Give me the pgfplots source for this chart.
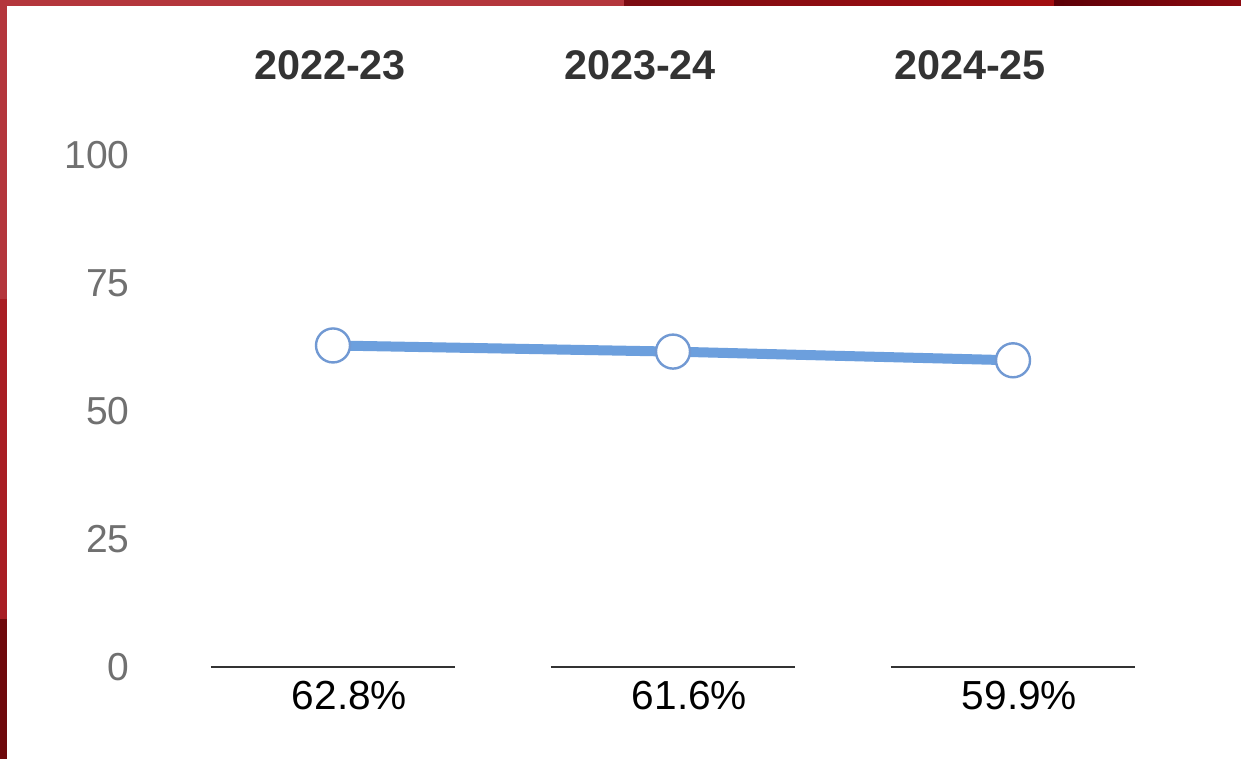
\documentclass[border=0pt]{standalone}
\usepackage{pgfplots}
\pgfplotsset{compat=1.18}
\usepackage{fontspec}
\setmainfont{Liberation Sans}
\definecolor{lineblue}{HTML}{6C9FDD}
\definecolor{markblue}{HTML}{7199D3}
\definecolor{tickgray}{HTML}{707070}
\definecolor{labeldark}{HTML}{333333}
\begin{document}
\begin{tikzpicture}
% background (1px = 0.5pt), picture 620.5pt x 379.5pt
\fill[color={rgb,255:red,168;green,30;blue,36}] (0pt,0pt) rectangle (620.5pt,379.5pt);
\fill[color={rgb,255:red,180;green,54;blue,60}] (0pt,230pt) rectangle (3.5pt,379.5pt);
\fill[color={rgb,255:red,110;green,9;blue,11}] (0pt,0pt) rectangle (3.5pt,70pt);
\fill[color={rgb,255:red,180;green,54;blue,60}] (0pt,376.5pt) rectangle (312pt,379.5pt);
\shade[left color={rgb,255:red,124;green,12;blue,18}, right color={rgb,255:red,162;green,14;blue,16}] (312pt,376.5pt) rectangle (527pt,379.5pt);
\shade[left color={rgb,255:red,92;green,0;blue,7}, right color={rgb,255:red,140;green,10;blue,16}] (527pt,376.5pt) rectangle (620.5pt,379.5pt);
\fill[white] (3.5pt,0pt) rectangle (620.5pt,376.5pt);
\begin{axis}[
  at={(81.5pt,46pt)}, anchor=south west,
  scale only axis, width=510pt, height=256pt,
  xmin=-0.5, xmax=2.5, ymin=0, ymax=100,
  axis line style={draw=none},
  xtick=\empty,
  ytick={0,25,50,75,100},
  tick style={draw=none},
  /pgf/number format/assume math mode=true,
  yticklabel style={anchor=east, inner sep=0pt, xshift=-16.5pt,
    text=tickgray, font=\fontsize{19.5}{20}\selectfont},
  clip=false,
]
% category baselines
\addplot[labeldark, line width=1.1pt] coordinates {(-0.359,0) (0.359,0)};
\addplot[labeldark, line width=1.1pt] coordinates {(0.641,0) (1.359,0)};
\addplot[labeldark, line width=1.1pt] coordinates {(1.641,0) (2.359,0)};
% series
\addplot[lineblue, line width=5pt, mark=*, mark size=8.5pt,
  mark options={fill=white, draw=markblue, line width=1.2pt}]
  coordinates {(0,62.8) (1,61.6) (2,59.9)};
% category headers
\node[font=\bfseries\fontsize{20.7}{21}\selectfont, text=labeldark] at (axis cs:-0.0088,100) [yshift=45pt] {2022-23};
\node[font=\bfseries\fontsize{20.7}{21}\selectfont, text=labeldark] at (axis cs:0.9029,100) [yshift=45pt] {2023-24};
\node[font=\bfseries\fontsize{20.7}{21}\selectfont, text=labeldark] at (axis cs:1.8735,100) [yshift=45pt] {2024-25};
% value labels
\node[font=\fontsize{20.3}{21}\selectfont, text=black] at (axis cs:0.0485,0) [yshift=-14.5pt] {62.8\%};
\node[font=\fontsize{20.3}{21}\selectfont, text=black] at (axis cs:1.0485,0) [yshift=-14.5pt] {61.6\%};
\node[font=\fontsize{20.3}{21}\selectfont, text=black] at (axis cs:2.0191,0) [yshift=-14.5pt] {59.9\%};
\end{axis}
\end{tikzpicture}
\end{document}
